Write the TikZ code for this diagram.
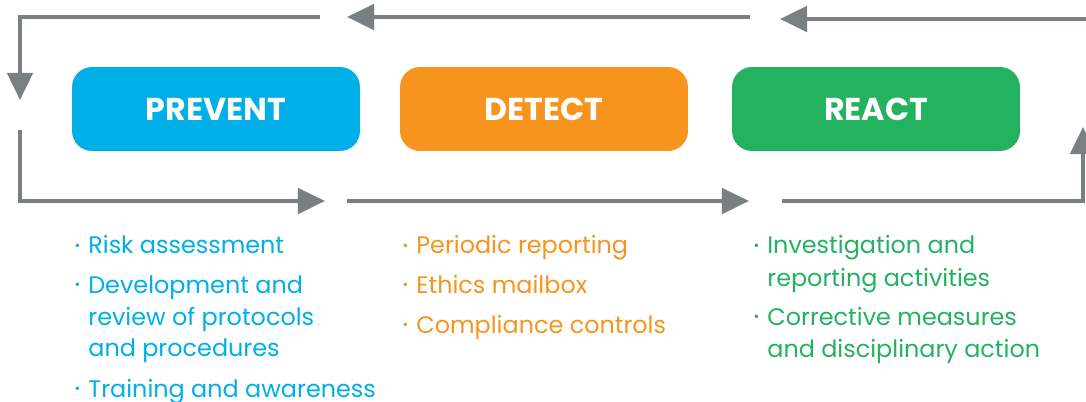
\documentclass[tikz,border=0pt]{standalone}
\usepackage{fontspec}
\setmainfont{Poppins}
\usetikzlibrary{arrows.meta}

\definecolor{prevcol}{HTML}{00AEE8}
\definecolor{detcol}{HTML}{F7941E}
\definecolor{reactcol}{HTML}{23B260}
\definecolor{flowgray}{HTML}{7A7F82}

\newcommand{\itembullet}{\llap{\raisebox{0.25ex}{\fontsize{8}{8}\selectfont •}\hspace{4.5pt}}}

\begin{document}
\begin{tikzpicture}[x=0.02cm,y=-0.02cm,
                    phase/.style={rounded corners=0.4cm,minimum width=5.76cm,minimum height=1.68cm,
                                  text=white,font=\fontsize{18}{20}\selectfont\bfseries},
                    item/.style={anchor=base west,inner sep=0pt,font=\fontsize{13.6}{16}\selectfont},
                    flow/.style={draw=flowgray,line width=2.3pt,line join=miter,
                                 -{Triangle[length=15.5pt,width=14.5pt]}}]
  \useasboundingbox (0,0) rectangle (1086,402);
  % phase boxes
  \node[phase,fill=prevcol] (prevent) at (216,109) {\raisebox{-1.2pt}{PREVENT}};
  \node[phase,fill=detcol] (detect) at (544,109) {\raisebox{-1.2pt}{DETECT}};
  \node[phase,fill=reactcol] (react) at (876,109) {\raisebox{-1.2pt}{REACT}};
  % loop ends
  \coordinate (tl0) at (320,17);  \coordinate (tl1) at (20,17);   \coordinate (tl2) at (20,100);
  \coordinate (tm0) at (750,17);  \coordinate (tm1) at (347,17);
  \coordinate (tr0) at (1090,19); \coordinate (tr1) at (780,19);
  \coordinate (bl0) at (20,130);  \coordinate (bl1) at (20,201);  \coordinate (bl2) at (325,201);
  \coordinate (bm0) at (347,201); \coordinate (bm1) at (749,201);
  \coordinate (br0) at (782,201); \coordinate (br1) at (1083,201); \coordinate (br2) at (1083,127);
  \draw[flow] (tl0) -- (tl1) -- (tl2);
  \draw[flow] (tm0) -- (tm1);
  \draw[flow] (tr0) -- (tr1);
  \draw[flow] (bl0) -- (bl1) -- (bl2);
  \draw[flow] (bm0) -- (bm1);
  \draw[flow] (br0) -- (br1) -- (br2);
  % lists
  \foreach [count=\i] \y/\b/\txt in {254/1/Risk assessment,293/1/Development and,
      325/0/review of protocols,356/0/and procedures,397/1/Training and awareness}
    \node[item,text=prevcol] (prev\i) at (88,\y) {\ifnum\b=1 \itembullet\fi\txt};
  \foreach [count=\i] \y/\b/\txt in {254/1/Periodic reporting,293/1/Ethics mailbox,
      333/1/Compliance controls}
    \node[item,text=detcol] (det\i) at (416,\y) {\ifnum\b=1 \itembullet\fi\txt};
  \foreach [count=\i] \y/\b/\txt in {254/1/Investigation and,286/0/reporting activities,
      325/1/Corrective measures,357/0/and disciplinary action}
    \node[item,text=reactcol] (react\i) at (767,\y) {\ifnum\b=1 \itembullet\fi\txt};
\end{tikzpicture}
\end{document}
